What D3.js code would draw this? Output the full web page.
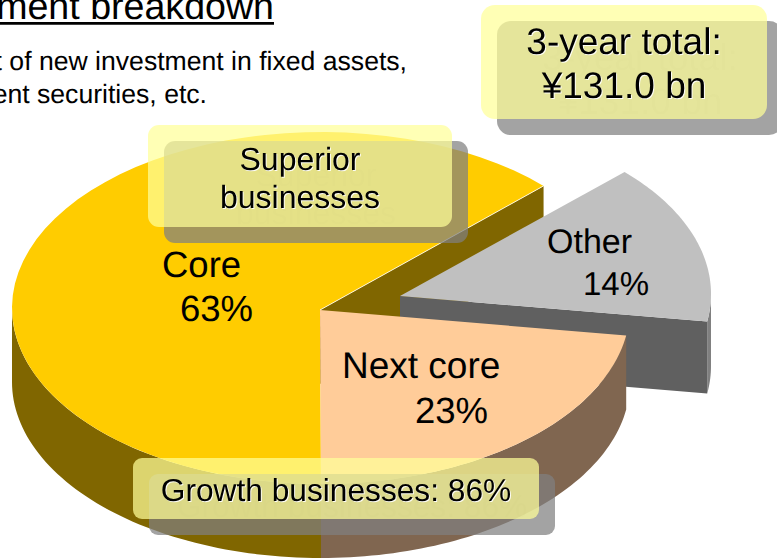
<!DOCTYPE html>
<html><head><meta charset="utf-8">
<script src="https://cdn.jsdelivr.net/npm/d3@7/dist/d3.min.js"></script>
<style>
html,body{margin:0;padding:0;background:#fff;overflow:hidden}
svg{display:block}
text{font-family:"Liberation Sans",Arial,sans-serif;fill:#000;text-rendering:geometricPrecision}
</style></head><body>
<script>
const categories = ["Core", "Other", "Next core"];
const shares = [63, 14, 23];               // printed percentages
const drawnShares = [62.8, 14.7, 22.5];    // slice spans
const topColors = ["#FFCC00", "#C0C0C0", "#FFCC99"];
const wallColors = ["#806600", "#808080", "#806650"];
const cutColors = ["#806600", "#606060", "#806650"];
const titleLines = ["ment breakdown"];
const subtitleLines = ["t of new investment in fixed assets,", "ent securities, etc."];
const boxLines = [["3-year total:", "¥131.0 bn"], ["Superior", "businesses"], ["Growth businesses: 86%"]];

const W = 777, H = 558, rx = 309, ry = 176, cx = 321, cy = 308;
const apex = [[320, 310], [400, 296], [320, 310]];
const centre = [[cx, cy], [cx + 81, cy - 14], [cx, cy]];
const depths = [74, 72, 74];

const svg = d3.select("body").append("svg").attr("width", W).attr("height", H);
const pie = d3.pie().sort(null).startAngle(Math.PI).endAngle(3 * Math.PI);
const arcs = pie(drawnShares);

const px = (a, i) => centre[i][0] + rx * Math.sin(a);
const py = (a, i) => centre[i][1] - ry * Math.cos(a);
const line = d3.line();
const samples = (a0, a1) => d3.range(0, 61).map(k => a0 + (a1 - a0) * k / 60);

function wall(i, a0, a1) {
  const top = samples(a0, a1).map(a => [px(a, i), py(a, i)]);
  const bot = top.slice().reverse().map(p => [p[0], p[1] + depths[i]]);
  return line(top.concat(bot)) + "Z";
}
function cut(i, a) {
  const c = apex[i], e = [px(a, i), py(a, i)];
  return line([c, e, [e[0], e[1] + depths[i]], [c[0], c[1] + depths[i]]]) + "Z";
}
function face(i, d) {
  const pts = samples(d.startAngle, d.endAngle).map(a => [px(a, i), py(a, i)]);
  return line([apex[i]].concat(pts)) + "Z";
}

const g = svg.append("g");
const c = arcs[0], o = arcs[1], n = arcs[2];

// Core first
g.append("path").attr("d", cut(0, c.endAngle)).attr("fill", cutColors[0]);
g.append("path").attr("d", wall(0, c.startAngle, 1.5 * Math.PI)).attr("fill", wallColors[0]);
g.append("path").attr("d", face(0, c)).attr("fill", topColors[0]);
g.append("path").attr("d", line([apex[0], [px(c.endAngle, 0), py(c.endAngle, 0)]]))
  .attr("stroke", "#fff").attr("stroke-width", 0.8).attr("fill", "none");

// Other wedge, pulled out, over the Core wall
g.append("path").attr("d", wall(1, 2.5 * Math.PI, o.endAngle)).attr("fill", wallColors[1]);
g.append("path").attr("d", cut(1, o.endAngle)).attr("fill", cutColors[1]);
g.append("path").attr("d", face(1, o)).attr("fill", topColors[1]);

// Next core, nearest
g.append("path").attr("d", wall(2, n.startAngle, n.endAngle)).attr("fill", wallColors[2]);
g.append("path").attr("d", face(2, n)).attr("fill", topColors[2]);

// Wedge labels
const labelSpec = [
  [162, 277, categories[0], 36.5], [180, 321, shares[0] + "%", 36.5],
  [547, 253, categories[1], 34], [583, 295, shares[1] + "%", 33],
  [342, 378, categories[2], 37], [415, 423, shares[2] + "%", 36.5]
];
labelSpec.forEach(l => {
  svg.append("text").attr("x", l[0]).attr("y", l[1]).attr("font-size", l[3]).text(l[2]);
});

// Title
svg.append("text").attr("x", 274).attr("y", 19).attr("text-anchor", "end")
  .attr("font-size", 37.6).text(titleLines[0]);
svg.append("line").attr("x1", 0).attr("x2", 274).attr("y1", 23.4).attr("y2", 23.4)
  .attr("stroke", "#000").attr("stroke-width", 2.6);
svg.append("text").attr("x", 407).attr("y", 70).attr("text-anchor", "end").attr("font-size", 26.6).text(subtitleLines[0]);
svg.append("text").attr("x", 207).attr("y", 103).attr("text-anchor", "end").attr("font-size", 26.6).text(subtitleLines[1]);

// Callout boxes
const boxes = [
  {x: 481, y: 5, w: 286, h: 114, r: 14, lines: boxLines[0], size: 37, cxT: 624, base: [54, 98]},
  {x: 148, y: 125, w: 304, h: 102, r: 11, lines: boxLines[1], size: 32, cxT: 300, base: [170, 208]},
  {x: 133, y: 458, w: 406, h: 61, r: 9, lines: boxLines[2], size: 31.7, cxT: 336, base: [501]}
];
boxes.forEach(b => {
  svg.append("rect").attr("x", b.x + 16).attr("y", b.y + 16).attr("width", b.w).attr("height", b.h).attr("rx", b.r)
    .attr("fill", "#808080").attr("opacity", 0.72);
  b.lines.forEach((t, i) => svg.append("text").attr("x", b.cxT + 16).attr("y", b.base[i] + 16)
    .attr("text-anchor", "middle").attr("font-size", b.size).attr("opacity", 0.05).text(t));
  svg.append("rect").attr("x", b.x).attr("y", b.y).attr("width", b.w).attr("height", b.h).attr("rx", b.r)
    .attr("fill", "#FFFF99").attr("opacity", 0.72);
  const tg = svg.append("g").style("filter", "drop-shadow(1px 1px 0 rgba(255,255,255,0.9))");
  b.lines.forEach((t, i) => tg.append("text").attr("x", b.cxT).attr("y", b.base[i])
    .attr("text-anchor", "middle").attr("font-size", b.size).text(t));
});
</script></body></html>
